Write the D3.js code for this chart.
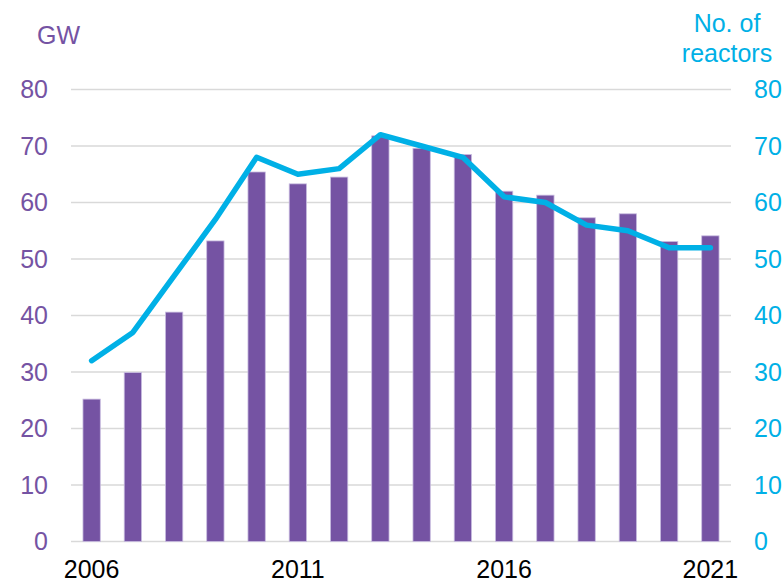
<!DOCTYPE html>
<html>
<head>
<meta charset="utf-8">
<script src="https://cdn.jsdelivr.net/npm/d3@7"></script>
<style>
  html, body { margin: 0; padding: 0; background: #fff; }
  svg { display: block; font-family: "Liberation Sans", Arial, sans-serif; }
</style>
</head>
<body>
<svg id="chart" width="783" height="584"></svg>
<script>
const years = [2006, 2007, 2008, 2009, 2010, 2011, 2012, 2013, 2014, 2015, 2016, 2017, 2018, 2019, 2020, 2021];
const capacityGW = [25.2, 29.9, 40.6, 53.2, 65.4, 63.3, 64.5, 71.8, 69.6, 68.5, 62.0, 61.3, 57.3, 58.0, 53.1, 54.1];
const reactors = [32, 37, 47, 57, 68, 65, 66, 72, 70, 68, 61, 60, 56, 55, 52, 52];
const yTicks = [0, 10, 20, 30, 40, 50, 60, 70, 80];
const xTickYears = [2006, 2011, 2016, 2021];

const purple = "#7553A3";
const blue = "#00B0E6";
const svg = d3.select("#chart");

const plotLeft = 71, plotRight = 731, plotTop = 89.5, plotBottom = 541.5;

const x = d3.scaleBand().domain(years).range([plotLeft, plotRight]).paddingInner(0.58).paddingOuter(0.29);
const yL = d3.scaleLinear().domain([0, 80]).range([plotBottom, plotTop]);
const yR = d3.scaleLinear().domain([0, 80]).range([plotBottom, plotTop]);

// gridlines
svg.append("g").selectAll("line").data(yTicks).join("line")
  .attr("x1", plotLeft).attr("x2", plotRight)
  .attr("y1", d => yL(d)).attr("y2", d => yL(d))
  .attr("stroke", "#d9d9d9").attr("stroke-width", 1.5);

// left axis
const axL = svg.append("g").attr("transform", `translate(${plotLeft},0)`)
  .call(d3.axisLeft(yL).tickValues(yTicks).tickSize(0).tickPadding(23));
axL.select(".domain").remove();
axL.selectAll("text").attr("fill", purple).attr("font-size", 25)
  .attr("font-family", "Liberation Sans, Arial, sans-serif");

// right axis
const axR = svg.append("g").attr("transform", `translate(${plotRight},0)`)
  .call(d3.axisRight(yR).tickValues(yTicks).tickSize(0).tickPadding(23));
axR.select(".domain").remove();
axR.selectAll("text").attr("fill", blue).attr("font-size", 25)
  .attr("font-family", "Liberation Sans, Arial, sans-serif");

// bars
svg.append("g").selectAll("rect").data(years).join("rect")
  .attr("x", d => x(d))
  .attr("width", x.bandwidth())
  .attr("y", (d, i) => yL(capacityGW[i]))
  .attr("height", (d, i) => yL(0) - yL(capacityGW[i]))
  .attr("fill", purple)
  .attr("stroke", "#c9bde0").attr("stroke-width", 0.8);

// line
const line = d3.line()
  .x((d, i) => x(years[i]) + x.bandwidth() / 2)
  .y(d => yR(d));
svg.append("path").datum(reactors)
  .attr("d", line)
  .attr("fill", "none")
  .attr("stroke", blue)
  .attr("stroke-width", 5.5)
  .attr("stroke-linejoin", "round")
  .attr("stroke-linecap", "round");

// x axis labels
const axX = svg.append("g").attr("transform", `translate(0,${plotBottom})`)
  .call(d3.axisBottom(x).tickValues(xTickYears).tickSize(0).tickPadding(19));
axX.select(".domain").remove();
axX.selectAll("text").attr("fill", "#000").attr("font-size", 25)
  .attr("font-family", "Liberation Sans, Arial, sans-serif");

// axis titles
svg.append("text").attr("x", 37).attr("y", 44)
  .attr("fill", purple).attr("font-size", 25).text("GW");
const rt = svg.append("text").attr("text-anchor", "middle").attr("fill", blue).attr("font-size", 25);
rt.append("tspan").attr("x", 727).attr("y", 32).text("No. of");
rt.append("tspan").attr("x", 727).attr("y", 62).text("reactors");
</script>
</body>
</html>
